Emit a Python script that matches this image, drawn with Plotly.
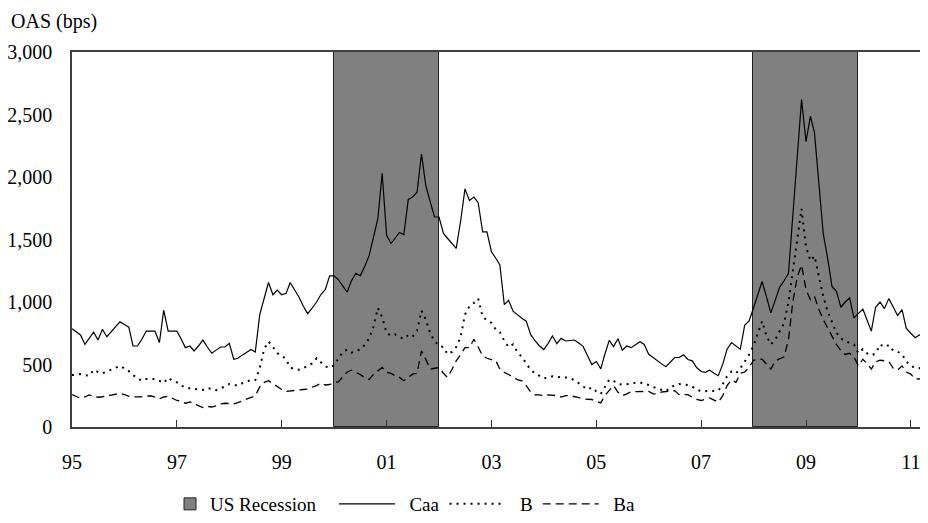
import pandas as pd
import plotly.graph_objects as go

# Monthly option-adjusted spreads (bps), Jan 1995 onward
start_month = "1995-01-01"

caa = [786, 760, 736, 661, 710, 759, 696, 781, 722, 760, 800, 841,
       820, 799, 648, 648, 700, 767, 767, 767, 675, 934, 767, 767,
       767, 700, 635, 648, 608, 650, 695, 640, 590, 615, 640, 640,
       669, 542, 550, 575, 600, 621, 600, 899, 1030, 1156, 1058, 1095,
       1058, 1069, 1156, 1100, 1040, 966, 907, 950, 1000, 1060, 1100, 1209,
       1209, 1177, 1133, 1079, 1170, 1230, 1209, 1283, 1371, 1508, 1667, 2030,
       1534, 1468, 1510, 1556, 1540, 1820, 1839, 1879, 2183, 1931, 1800, 1680,
       1680, 1548, 1510, 1470, 1429, 1650, 1905, 1812, 1839, 1794, 1561, 1561,
       1402, 1350, 1296, 979, 1013, 926, 895, 870, 847, 741, 690, 650,
       620, 670, 728, 667, 709, 688, 692, 696, 672, 645, 570, 500,
       524, 465, 580, 693, 643, 706, 614, 648, 635, 660, 683, 661,
       582, 556, 530, 505, 482, 520, 556, 556, 577, 540, 529, 476,
       444, 437, 455, 430, 410, 503, 622, 675, 650, 622, 815, 847,
       952, 1060, 1164, 1040, 913, 1015, 1117, 1170, 1230, 1690, 2150, 2619,
       2283, 2487, 2355, 1950, 1548, 1349, 1125, 1085, 958, 1000, 1032, 873,
       910, 944, 860, 767, 958, 1000, 947, 1027, 960, 891, 939, 788,
       750, 714, 736, 720, 720]

b = [415, 418, 423, 415, 410, 458, 440, 429, 442, 455, 474, 489,
     470, 447, 415, 390, 370, 384, 384, 384, 370, 352, 394, 370,
     357, 330, 312, 310, 307, 300, 296, 312, 300, 294, 310, 323,
     344, 337, 331, 350, 363, 376, 376, 470, 625, 683, 640, 590,
     574, 540, 476, 463, 458, 471, 490, 508, 550, 516, 485, 474,
     495, 548, 601, 619, 595, 609, 620, 656, 709, 800, 952, 878,
     754, 730, 741, 720, 706, 736, 722, 770, 931, 860, 749, 688,
     650, 640, 582, 600, 640, 720, 900, 966, 992, 1027, 880, 855,
     833, 780, 759, 690, 640, 661, 601, 560, 511, 458, 430, 410,
     389, 395, 405, 397, 400, 397, 390, 376, 350, 331, 300, 317,
     285, 265, 323, 378, 370, 345, 339, 339, 345, 355, 357, 345,
     336, 320, 310, 295, 286, 315, 335, 344, 340, 336, 323, 300,
     286, 286, 286, 286, 290, 344, 405, 444, 429, 468, 524, 577,
     650, 754, 847, 728, 661, 701, 762, 830, 1000, 1250, 1500, 1746,
     1440, 1330, 1368, 1200, 1045, 926, 840, 754, 709, 688, 670, 661,
     590, 622, 590, 574, 587, 660, 640, 656, 610, 603, 582, 524,
     490, 471, 471, 480, 495]

ba = [259, 245, 230, 240, 257, 245, 238, 242, 251, 255, 262, 270,
      260, 246, 240, 238, 242, 246, 250, 240, 225, 240, 246, 230,
      212, 205, 190, 200, 185, 165, 155, 165, 160, 170, 185, 190,
      185, 185, 195, 210, 225, 238, 250, 320, 357, 370, 344, 320,
      300, 285, 290, 294, 296, 300, 304, 318, 331, 352, 336, 340,
      350, 363, 400, 440, 455, 440, 420, 395, 380, 420, 450, 476,
      437, 429, 410, 397, 370, 400, 423, 429, 609, 542, 463, 470,
      476, 430, 397, 460, 529, 580, 635, 635, 701, 640, 569, 550,
      542, 529, 463, 437, 420, 397, 378, 370, 331, 280, 257, 257,
      251, 257, 257, 251, 240, 251, 251, 245, 235, 225, 222, 220,
      205, 193, 251, 291, 331, 278, 251, 265, 283, 283, 283, 283,
      285, 265, 265, 280, 285, 291, 291, 259, 259, 259, 238, 220,
      212, 225, 233, 215, 198, 251, 331, 376, 357, 429, 440, 476,
      534, 542, 542, 503, 463, 529, 545, 561, 700, 1000, 1200, 1296,
      1100, 1018, 1045, 940, 860, 790, 720, 660, 610, 580, 590, 560,
      489, 542, 510, 463, 521, 534, 530, 524, 470, 455, 489, 440,
      423, 384, 384, 400, 418]

rec_start = ["2000-01-01", "2008-01-01"]
rec_end = ["2002-01-01", "2010-01-01"]

x_ticks = ["1995-01-01", "1997-01-01", "1999-01-01", "2001-01-01", "2003-01-01",
           "2005-01-01", "2007-01-01", "2009-01-01", "2011-01-01"]
x_ticktext = ["95", "97", "99", "01", "03", "05", "07", "09", "11"]
y_ticks = [0, 500, 1000, 1500, 2000, 2500, 3000]

dates = pd.date_range(start_month, periods=len(caa), freq="MS")

rs = pd.to_datetime(rec_start)
re_ = pd.to_datetime(rec_end)
rec_mid = rs + (re_ - rs) / 2
rec_width = [(e - s).total_seconds() * 1000 for s, e in zip(rs, re_)]

FONT = '"Liberation Serif", "Times New Roman", Times, serif'
NB = "\u00a0"

fig = go.Figure()
fig.add_trace(go.Bar(
    x=rec_mid, y=[3000] * len(rec_start), width=rec_width,
    marker=dict(color="#808080", line=dict(color="#222222", width=1)),
    name="US Recession", hoverinfo="skip", legend="legend2"))
fig.add_trace(go.Scatter(x=dates, y=caa, mode="lines", name=NB * 2 + "Caa",
                         line=dict(color="black", width=1.2)))
fig.add_trace(go.Scatter(x=dates, y=b, mode="lines", name=NB * 2 + "B",
                         line=dict(color="black", width=2, dash="2px,5px")))
fig.add_trace(go.Scatter(x=dates, y=ba, mode="lines", name=NB * 2 + "Ba",
                         line=dict(color="black", width=1.3, dash="8px,5px")))

LEG_Y = -0.206

# the page adds an 8px body margin, so the figure is sized/offset to fill 928x523
fig.update_layout(
    width=920, height=515,
    margin=dict(l=64, r=0, t=44, b=93),
    paper_bgcolor="white", plot_bgcolor="white",
    font=dict(family=FONT, size=20, color="black"),
    showlegend=True,
    legend=dict(orientation="h", x=0.306, y=LEG_Y, xanchor="left", yanchor="middle",
                font=dict(family=FONT, size=19), itemwidth=56,
                traceorder="normal", bgcolor="rgba(0,0,0,0)"),
    legend2=dict(orientation="h", x=0.1145, y=LEG_Y, xanchor="left", yanchor="middle",
                 font=dict(family=FONT, size=19), itemwidth=30,
                 bgcolor="rgba(0,0,0,0)"),
    bargap=0,
    xaxis=dict(type="date", range=["1995-01-01", "2011-05-01"],
               tickvals=x_ticks, ticktext=x_ticktext,
               ticks="inside", ticklen=7, tickcolor="#333333", tickwidth=1.3,
               showline=True, linecolor="#404040", linewidth=1.5, mirror=True,
               showgrid=False, zeroline=False, ticklabelstandoff=16),
    yaxis=dict(range=[0, 3000], tickvals=y_ticks, tickformat=",",
               ticks="", showline=True, linecolor="#404040", linewidth=1.5,
               showgrid=False, zeroline=False, ticklabelstandoff=14),
    annotations=[dict(text="OAS (bps)", xref="paper", yref="paper",
                      x=-0.0735, y=1.1164, xanchor="left", yanchor="top",
                      showarrow=False, font=dict(family=FONT, size=20))],
)

fig.write_html("out.html")
